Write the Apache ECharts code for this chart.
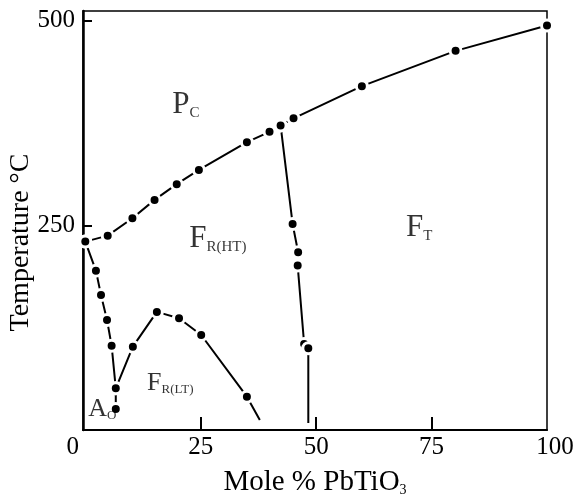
<!DOCTYPE html>
<html><head><meta charset="utf-8">
<script src="https://cdn.jsdelivr.net/npm/echarts@6/dist/echarts.min.js"></script>
<style>html,body{margin:0;padding:0;background:#fff}#c{width:577px;height:499px}</style>
</head><body><div id="c"></div>
<script>
// Axis ticks / labels
const xTickValues = [25, 50, 75];
const xLabelValues = [0, 25, 50, 75, 100];
const yTickValues = [250, 500];
const yLabelValues = [250, 500];

// Phase boundaries: [mole % PbTiO3, temperature °C]
const curieLine = [[0,230.2],[4.85,237.5],[10.2,258.8],[15.0,281.2],[19.8,300.4],[24.6,317.8],[35.0,351.7],[39.9,364.3],[42.3,372.2],[45.1,380.8],[59.9,420.2],[80.2,463.3],[100,494.3]];
const mpbLine = [[42.3,372.2],[44.9,251.8],[46.1,217.2],[46.0,200.9],[47.4,105.1],[48.3,99.9]];
const mpbEnd = [48.3, 8.6];
const aoLine = [[0,230.2],[2.3,194.7],[3.4,165.0],[4.7,134.5],[5.7,103.0],[6.6,51.0],[6.6,25.7]];
const ltLine = [[6.6,51.0],[10.3,101.8],[15.5,144.3],[20.3,136.6],[25.1,116.1],[35.0,40.7]];
const ltEnd = [37.8, 12.2];

// Phase region labels
const bigRegionMain = ['P', 'F', 'F'];
const bigRegionSub = ['C', 'R(HT)', 'T'];
const bigRegionX = [21.8, 28.7, 72.3];
const bigRegionY = [397, 233, 247];
const smallRegionMain = ['F', 'A'];
const smallRegionSub = ['R(LT)', 'O'];
const smallRegionX = [18.4, 3.7];
const smallRegionY = [57, 26];

const FONT = 'Liberation Serif';

function lineData(pts, end) {
  const d = pts.map(p => ({ value: p }));
  if (end) d.push({ value: end, symbol: 'none' });
  return d;
}
function lineSeries(pts, end) {
  return {
    type: 'line',
    data: lineData(pts, end),
    symbol: 'circle',
    symbolSize: 11,
    itemStyle: { color: '#000', borderColor: '#fff', borderWidth: 3 },
    lineStyle: { color: '#000', width: 2 },
    silent: true,
    z: 3
  };
}
function regionSeries(mains, subs, xs, ys, big) {
  const mSize = big ? 31 : 26;
  const sSize = big ? 15 : 13;
  return {
    type: 'scatter',
    symbolSize: 1,
    itemStyle: { color: 'transparent' },
    silent: true,
    z: 4,
    data: xs.map((x, i) => ({ value: [x, ys[i]], main: mains[i], sub: subs[i] })),
    label: {
      show: true,
      position: 'inside',
      formatter: p => '{m|' + p.data.main + '}{s|' + p.data.sub + '}',
      rich: {
        m: { fontFamily: FONT, fontSize: mSize, lineHeight: mSize, color: '#000' },
        s: { fontFamily: FONT, fontSize: sSize, lineHeight: 6, verticalAlign: 'bottom', color: '#000' }
      }
    }
  };
}

const chart = echarts.init(document.getElementById('c'));
chart.setOption({
  animation: false,
  backgroundColor: '#fff',
  grid: { left: 83, right: 30, top: 11, bottom: 69, containLabel: false, outerBoundsMode: 'none', show: true, borderColor: '#000', borderWidth: 1.5, backgroundColor: 'transparent' },
  xAxis: {
    type: 'value', min: -0.5, max: 100,
    splitLine: { show: false },
    axisLine: { show: true, onZero: false, lineStyle: { color: '#000', width: 2 } },
    axisTick: { show: true, inside: true, length: 13, customValues: xTickValues, lineStyle: { color: '#000', width: 2 } },
    axisLabel: {
      customValues: xLabelValues, margin: 5, color: '#000', fontFamily: FONT, fontSize: 25,
      formatter: v => v === 0 ? '{l|0}' : (v === 100 ? '{r|100}' : String(v)),
      rich: {
        l: { fontFamily: FONT, fontSize: 25, color: '#000', padding: [0, 25, 0, 0] },
        r: { fontFamily: FONT, fontSize: 25, color: '#000', padding: [0, 0, 0, 16] }
      }
    },
    name: 'Mole % PbTiO{s|3}', nameLocation: 'middle', nameGap: 38, nameMoveOverlap: false,
    nameTextStyle: {
      fontFamily: FONT, fontSize: 29, color: '#000',
      rich: { s: { fontFamily: FONT, fontSize: 14, lineHeight: 6, verticalAlign: 'bottom', color: '#000' } }
    }
  },
  yAxis: {
    type: 'value', min: 0, max: 512,
    splitLine: { show: false },
    axisLine: { show: true, onZero: false, lineStyle: { color: '#000', width: 2.5 } },
    axisTick: { show: true, inside: true, length: 9, customValues: yTickValues, lineStyle: { color: '#000', width: 2 } },
    axisLabel: { customValues: yLabelValues, margin: 8, color: '#000', fontFamily: FONT, fontSize: 25 },
    name: 'Temperature °C', nameLocation: 'middle', nameGap: 48, nameMoveOverlap: false,
    nameTextStyle: { fontFamily: FONT, fontSize: 28, color: '#000', padding: [0, 44, 0, 0] }
  },
  series: [
    lineSeries(curieLine),
    lineSeries(mpbLine, mpbEnd),
    lineSeries(aoLine),
    lineSeries(ltLine, ltEnd),
    regionSeries(bigRegionMain, bigRegionSub, bigRegionX, bigRegionY, true),
    regionSeries(smallRegionMain, smallRegionSub, smallRegionX, smallRegionY, false)
  ]
});
</script>
</body></html>
